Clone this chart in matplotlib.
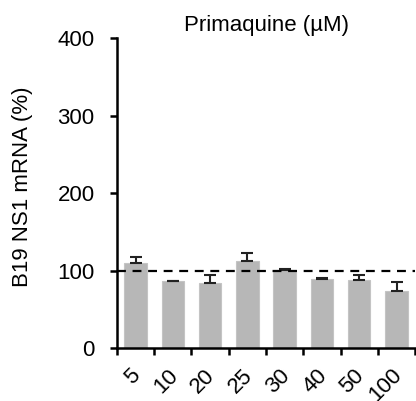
import matplotlib
matplotlib.use("Agg")
import matplotlib.pyplot as plt
import numpy as np

categories = ["5", "10", "20", "25", "30", "40", "50", "100"]
values = [109.5, 86, 83.5, 112, 101, 89, 87.5, 74]
errors = [8.5, 1, 10.5, 10.5, 1.5, 1, 6.5, 11]
yticks = [0, 100, 200, 300, 400]

plt.rcParams['font.family'] = ['Liberation Sans', 'DejaVu Sans']

fig = plt.figure(figsize=(4.16, 4.01), dpi=100)
ax = fig.add_axes([0.281, 0.132, 0.717, 0.773])

x = np.arange(len(categories))
ax.bar(x, values, width=0.6, color='#b7b7b7', edgecolor='#c4c4c4', linewidth=0.8, zorder=2)
ax.errorbar(x, values, yerr=[np.zeros(len(errors)), errors], fmt='none',
            ecolor='#222222', elinewidth=1.5, capsize=4.5, capthick=1.5, zorder=3)
ax.axhline(100, color='black', linestyle=(0, (4, 3)), linewidth=1.6, zorder=4)

ax.set_xlim(-0.5, len(categories) - 0.5)
ax.set_ylim(0, 400)
ax.set_yticks(yticks)
ax.set_xticks(np.arange(len(categories) + 1) - 0.5)
ax.set_xticklabels([])
for xi, lab in zip(x, categories):
    ax.annotate(lab, xy=(xi, 0), xycoords=('data', 'axes fraction'),
                xytext=(-4, -12), textcoords='offset points',
                rotation=45, ha='right', va='top', rotation_mode='anchor',
                fontsize=16, annotation_clip=False)
ax.tick_params(axis='x', which='major', length=5, width=1.8, direction='out')
ax.tick_params(axis='y', length=5, width=1.8, direction='out', labelsize=16, pad=11)

for s in ['top', 'right']:
    ax.spines[s].set_visible(False)
for s in ['left', 'bottom']:
    ax.spines[s].set_linewidth(1.8)

ax.set_ylabel("B19 NS1 mRNA (%)", fontsize=16)
ax.yaxis.set_label_coords(-0.282, 0.52)
ax.set_title("Primaquine (µM)", fontsize=16, pad=5)

fig.savefig("out.png", dpi=100)
